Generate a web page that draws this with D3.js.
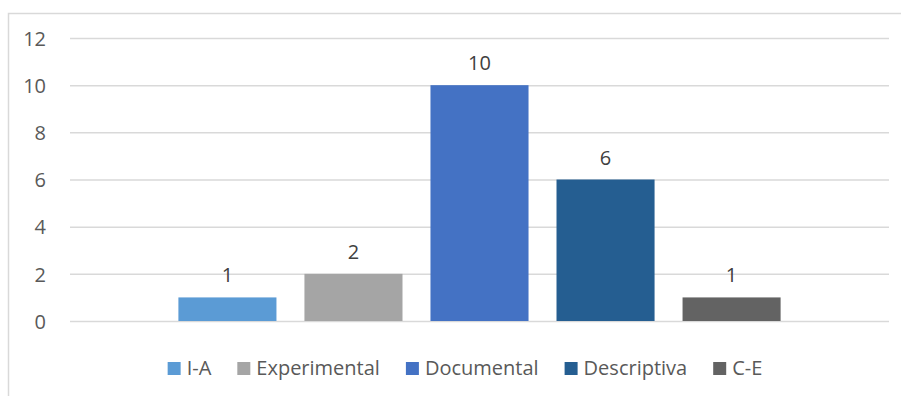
<!DOCTYPE html>
<html>
<head>
<meta charset="utf-8">
<script src="https://cdn.jsdelivr.net/npm/d3@7"></script>
<style>
  body { margin: 0; background: #fff; }
  text { font-family: "Open Sans", sans-serif; }
</style>
</head>
<body>
<div class="chart"></div>
<script>
// data
const categories = ['']
const seriesNames = ['I-A', 'Experimental', 'Documental', 'Descriptiva', 'C-E']
const seriesValues = [1, 2, 10, 6, 1]
const seriesColors = ['#5B9BD5', '#A5A5A5', '#4472C4', '#255E91', '#636363']
const yTicks = [0, 2, 4, 6, 8, 10, 12]

const W = 901, H = 396
const margin = ({top: 38, bottom: 75, left: 70, right: 12})

const svg = d3.select('.chart')
  .append('svg')
  .attr('width', W)
  .attr('height', H)

// chart frame (only top + left edges are visible in the reference)
svg.append('path')
  .attr('d', `M8.5,${H} V13.5 H${W}`)
  .attr('fill', 'none')
  .attr('stroke', '#d9d9d9')
  .attr('stroke-width', 1.5)

const x0 = d3.scaleBand()
  .domain(categories)
  .range([margin.left, W - margin.right])
  .paddingInner(0)
  .paddingOuter(0.18)

const x1 = d3.scaleBand()
  .domain(seriesNames)
  .range([0, x0.bandwidth()])
  .paddingInner(0.222)
  .paddingOuter(0)

const y = d3.scaleLinear()
  .domain([0, 12])
  .range([H - margin.bottom, margin.top])

// gridlines
const yAxis = d3.axisLeft(y)
  .tickValues(yTicks)
  .tickSize(-(W - margin.right - margin.left))
  .tickPadding(24)

const gy = svg.append('g')
  .attr('class', 'y-axis')
  .attr('transform', `translate(${margin.left},0)`)
  .call(yAxis)
gy.select('.domain').remove()
gy.selectAll('.tick line')
  .attr('stroke', '#d9d9d9')
  .attr('stroke-width', 1.5)
gy.selectAll('.tick text')
  .attr('fill', '#595959')
  .style('font-size', '20px')
  .attr('dy', '0.36em')

const rows = seriesNames.map((s, i) => ({name: s, value: seriesValues[i], color: seriesColors[i]}))

const grp = svg.append('g')
  .attr('transform', `translate(${x0(categories[0])},0)`)

grp.selectAll('rect')
  .data(rows)
  .enter()
  .append('rect')
  .attr('x', d => x1(d.name))
  .attr('y', d => y(d.value))
  .attr('width', x1.bandwidth())
  .attr('height', d => y(0) - y(d.value))
  .attr('fill', d => d.color)

grp.selectAll('.lbl')
  .data(rows)
  .enter()
  .append('text')
  .attr('class', 'lbl')
  .attr('x', d => x1(d.name) + x1.bandwidth() / 2)
  .attr('y', d => y(d.value) - 15)
  .attr('text-anchor', 'middle')
  .attr('fill', '#404040')
  .style('font-size', '20px')
  .text(d => d.value)

// legend
const legend = svg.append('g')
const items = legend.selectAll('g')
  .data(rows)
  .enter()
  .append('g')

items.append('rect')
  .attr('width', 13)
  .attr('height', 13)
  .attr('y', -13)
  .attr('fill', d => d.color)
items.append('text')
  .attr('x', 19)
  .attr('fill', '#595959')
  .style('font-size', '20px')
  .text(d => d.name)

let pos = 0
items.each(function () {
  const g = d3.select(this)
  g.attr('transform', `translate(${pos},0)`)
  pos += 19 + g.select('text').node().getComputedTextLength() + 26
})
const total = pos - 26
legend.attr('transform', `translate(${465 - total / 2},375)`)
</script>
</body>
</html>
